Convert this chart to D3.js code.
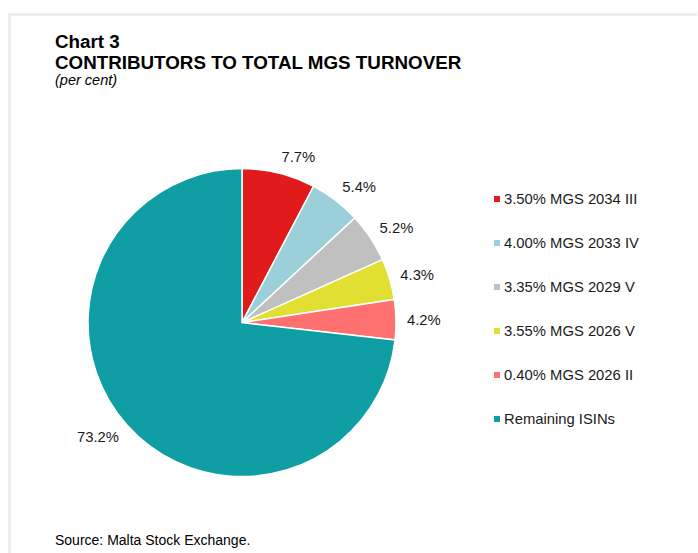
<!DOCTYPE html>
<html>
<head>
<meta charset="utf-8">
<script src="https://cdn.jsdelivr.net/npm/d3@7"></script>
<style>
  body { margin: 0; background: #fff; }
  svg { display: block; font-family: "Liberation Sans", Arial, sans-serif; }
</style>
</head>
<body>
<div id="viewPanel"></div>
<script>
const labels = ['3.50% MGS 2034 III', '4.00% MGS 2033 IV', '3.35% MGS 2029 V', '3.55% MGS 2026 V', '0.40% MGS 2026 II', 'Remaining ISINs'];
const shares = [7.7, 5.4, 5.2, 4.3, 4.2, 73.2];
const colors = ['#e11b1b', '#9bcfd9', '#c0c0c0', '#e1e032', '#ff7070', '#0f9ea3'];

const width = 698;
const height = 553;
const cx = 242;
const cy = 322.6;
const radius = 154;
const labelRadius = 165;

const svg = d3.select('#viewPanel')
    .append('svg')
    .attr('width', width)
    .attr('height', height);

// light frame round the chart
svg.append('path')
    .attr('d', `M9.5,${height} V14.5 H697`)
    .attr('fill', 'none')
    .attr('stroke', '#ebebeb')
    .attr('stroke-width', 2.5);

// Titles
svg.append('text').attr('x', 55).attr('y', 48)
    .attr('font-size', 18.8).attr('font-weight', 'bold').attr('fill', '#000')
    .text('Chart 3');
svg.append('text').attr('x', 55).attr('y', 69)
    .attr('font-size', 18.8).attr('font-weight', 'bold').attr('fill', '#000')
    .text('CONTRIBUTORS TO TOTAL MGS TURNOVER');
svg.append('text').attr('x', 55).attr('y', 85)
    .attr('font-size', 14.5).attr('font-style', 'italic').attr('fill', '#000')
    .text('(per cent)');

svg.append('text').attr('x', 55).attr('y', 545)
    .attr('font-size', 14).attr('fill', '#000')
    .text('Source: Malta Stock Exchange.');

const data = labels.map((l, i) => ({ label: l, value: shares[i], color: colors[i] }));

const pie = d3.pie().sort(null).value(d => d.value);
const arcs = pie(data);
const arc = d3.arc().innerRadius(0).outerRadius(radius);

const g = svg.append('g').attr('transform', `translate(${cx},${cy})`);

g.selectAll('path.slice')
    .data(arcs)
    .join('path')
    .attr('class', 'slice')
    .attr('d', arc)
    .attr('fill', d => d.data.color)
    .attr('stroke', '#fff')
    .attr('stroke-width', 1.5);

// Outside labels, pushed out from the rim by half the label box
const fmt = d3.format('.1f');
g.selectAll('text.lbl')
    .data(arcs)
    .join('text')
    .attr('class', 'lbl')
    .attr('font-size', 14.8)
    .attr('fill', '#1a1a1a')
    .attr('text-anchor', 'middle')
    .attr('dy', '0.35em')
    .text(d => fmt(d.data.value) + '%')
    .each(function(d) {
        const a = (d.startAngle + d.endAngle) / 2;
        const s = Math.sin(a), c = -Math.cos(a);
        const hw = this.getComputedTextLength() / 2;
        const hh = 6;
        const x = labelRadius * s + hw * Math.sign(s);
        const y = labelRadius * c + hh * c;
        d3.select(this).attr('x', x).attr('y', y);
    });

// Legend
const legend = svg.append('g').attr('transform', 'translate(494,199)');
const rowY = d3.scalePoint().domain(labels).range([0, 220]);

const item = legend.selectAll('g')
    .data(data)
    .join('g')
    .attr('transform', d => `translate(0,${rowY(d.label)})`);

item.append('rect')
    .attr('x', 0).attr('y', -3)
    .attr('width', 6).attr('height', 6)
    .attr('fill', d => d.color);

item.append('text')
    .attr('x', 10)
    .attr('dy', '0.35em')
    .attr('font-size', 14.8)
    .attr('fill', '#1a1a1a')
    .text(d => d.label);
</script>
</body>
</html>
